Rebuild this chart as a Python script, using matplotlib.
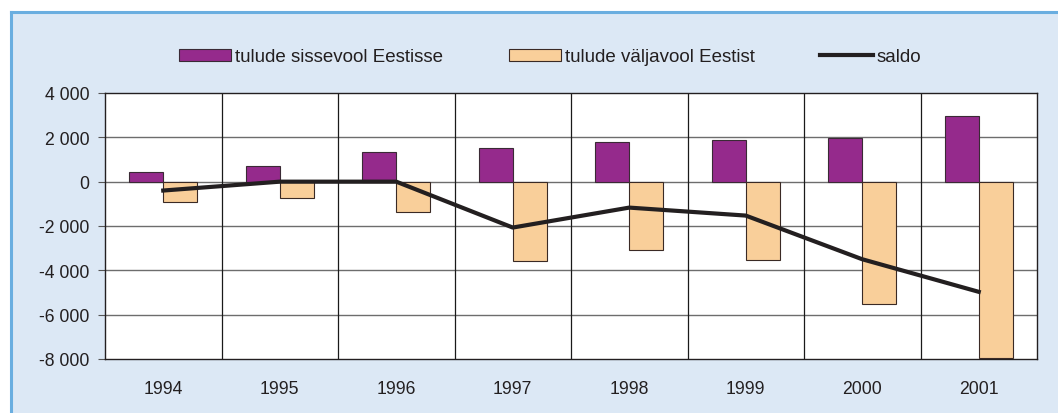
import matplotlib
matplotlib.use("Agg")
import matplotlib.pyplot as plt
from matplotlib.patches import Rectangle
from matplotlib.lines import Line2D
import numpy as np

years = ["1994", "1995", "1996", "1997", "1998", "1999", "2000", "2001"]
inflow = [450, 720, 1350, 1530, 1800, 1900, 1990, 2980]
outflow = [-900, -720, -1350, -3600, -3070, -3520, -5500, -7950]
saldo = [-400, 0, 0, -2070, -1170, -1530, -3500, -4970]
yticks = [4000, 2000, 0, -2000, -4000, -6000, -8000]
ytick_labels = ["4 000", "2 000", "0", "-2 000", "-4 000", "-6 000", "-8 000"]

purple = "#952a8c"
orange = "#f9cf9a"
panel_bg = "#dce8f5"
border = "#6aaee0"

plt.rcParams['font.family'] = ['Liberation Sans', 'DejaVu Sans']

W, H = 1058, 414
fig = plt.figure(figsize=(W / 100, H / 100), dpi=100)
fig.patch.set_facecolor("white")

# panel background
fig.patches.append(Rectangle((11 / W, 0), 1 - 11 / W, (H - 13) / H, transform=fig.transFigure,
                             facecolor=panel_bg, edgecolor="none", zorder=-2))
fig.lines.append(Line2D([11 / W, 11 / W], [0, (H - 13) / H], transform=fig.transFigure,
                        color=border, lw=2.2, zorder=-1))
fig.lines.append(Line2D([11 / W, 1], [(H - 13) / H, (H - 13) / H], transform=fig.transFigure,
                        color=border, lw=2.2, zorder=-1))

left, right, top, bottom = 105, 1037, 94, 360
ax = fig.add_axes([left / W, (H - bottom) / H, (right - left) / W, (bottom - top) / H])
ax.set_facecolor("white")

x = np.arange(len(years))
bw = 0.29
b1 = ax.bar(x - bw / 2, inflow, width=bw, color=purple, edgecolor="#3a2a35", linewidth=0.8, zorder=3,
            label="tulude sissevool Eestisse")
b2 = ax.bar(x + bw / 2, outflow, width=bw, color=orange, edgecolor="#3a2a25", linewidth=0.8, zorder=3,
            label="tulude väljavool Eestist")
l1, = ax.plot(x, saldo, color="#231f20", lw=3.0, zorder=4, label="saldo")

ax.set_xlim(-0.5, len(years) - 0.5)
ax.set_ylim(-8000, 4000)
ax.set_yticks(yticks)
ax.set_yticklabels(ytick_labels)
ax.set_xticks(x)
ax.set_xticklabels(years)
ax.tick_params(axis="y", length=5, width=0.8, color="#555555", labelsize=12.7, labelcolor="#231f20", pad=6)
ax.tick_params(axis="x", length=0, labelsize=12.7, labelcolor="#231f20", pad=15)

for v in yticks[1:-1]:
    ax.axhline(v, color="#6d6d6d", lw=1.0, zorder=1)
for b in np.arange(0.5, len(years) - 1, 1.0):
    ax.axvline(b, color="#1a1a1a", lw=0.9, zorder=1)

for s in ax.spines.values():
    s.set_color("#231f20")
    s.set_linewidth(1.0)

fig.legend(handles=[b1, b2, l1], loc="center", bbox_to_anchor=(550 / W, (H - 58) / H), ncol=3,
           frameon=False, fontsize=13.5, handlelength=2.8, handleheight=0.65, handletextpad=0.2,
           columnspacing=3.5, labelcolor="#231f20", borderpad=0, borderaxespad=0)

fig.savefig("out.png", dpi=100, facecolor=fig.get_facecolor())
